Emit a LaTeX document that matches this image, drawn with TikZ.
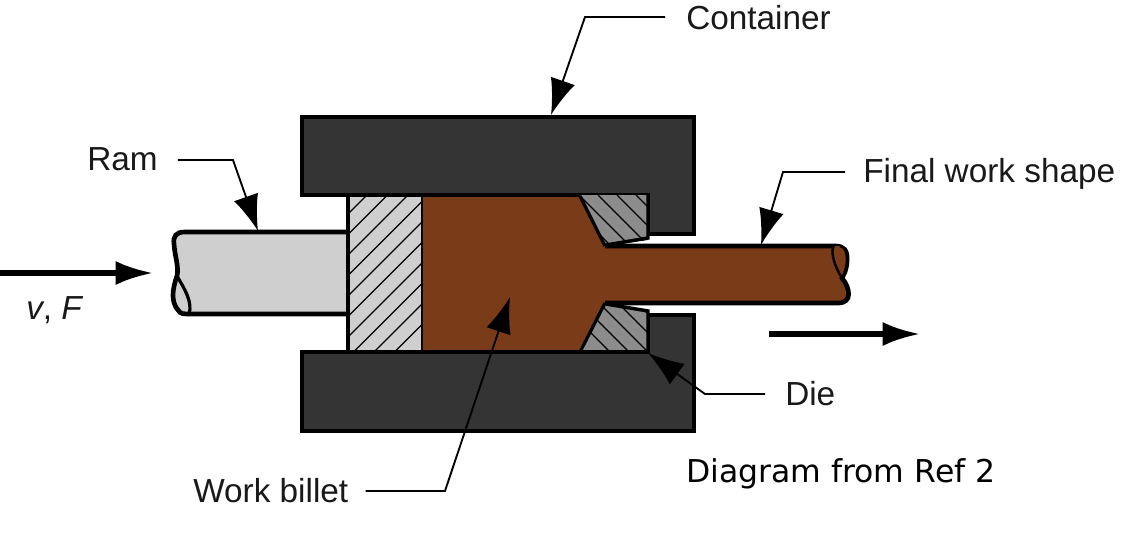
\documentclass[tikz,border=0pt]{standalone}
\usepackage{fontspec}
\setmainfont{Liberation Sans}
\newfontfamily\notefont{DejaVu Sans}
\usetikzlibrary{arrows.meta}
\definecolor{darkc}{RGB}{52,52,52}
\definecolor{ramc}{RGB}{207,207,207}
\definecolor{diec}{RGB}{140,140,140}
\definecolor{billc}{RGB}{122,60,24}
\tikzset{
  outl/.style={draw=black,line width=3.5pt,line join=miter},
  thinl/.style={draw=black,line width=1pt},
  leader/.style={draw=black,line width=1.4pt,-{Latex[length=27pt,width=19pt]}},
  bigarrow/.style={draw=black,line width=3.8pt,-{Latex[length=28pt,width=18pt]}},
  lab/.style={inner sep=0pt,font=\fontsize{25}{30}\selectfont,text=black!90},
}
\begin{document}
\begin{tikzpicture}[x=0.75pt,y=-0.75pt]
\useasboundingbox (0,0) rectangle (1140,540);
% container
\path[fill=darkc,outl] (302,117) -- (694,117) -- (694,234) -- (648,234) -- (648,195) -- (302,195) -- cycle;
\path[fill=darkc,outl] (302,352) -- (648,352) -- (648,315) -- (694,315) -- (694,431) -- (302,431) -- cycle;
% ram
\path[fill=ramc,outl] (348,232) -- (185,232) .. controls (176,232) and (173,236) .. (174,244)
  .. controls (175,258) and (179,266) .. (177,276) .. controls (172,290) and (171,302) .. (178,310) .. controls (180,314) and (184,314) .. (190,314) -- (348,314);
\path[draw=black,line width=2.4pt] (177,276) .. controls (184,288) and (193,302) .. (189,314);
% pressure block
\path[fill=ramc] (348,195) rectangle (423,352);
\begin{scope}
\clip (348,195) rectangle (423,352);
\foreach \k in {0,...,9} \draw[thinl] (348,{214+\k*20.5*1}) -- ++(80,-80);
\end{scope}
\path[outl] (348,195) rectangle (423,352);
% die
\path[fill=diec] (580,195) -- (648,195) -- (648,240) -- (605,246) -- cycle;
\path[fill=diec] (605,303) -- (648,311) -- (648,352) -- (580,352) -- cycle;
\begin{scope}
\clip (580,195) -- (648,195) -- (648,240) -- (605,246) -- cycle;
\foreach \k in {0,...,6} \draw[thinl] ({560+\k*19},195) -- ++(65,65);
\end{scope}
\begin{scope}
\clip (605,303) -- (648,311) -- (648,352) -- (580,352) -- cycle;
\foreach \k in {0,...,6} \draw[thinl] ({548+\k*19},290) -- ++(70,70);
\end{scope}
\path[draw=black,line width=2.6pt] (648,195) -- (648,238) -- (606,245);
\path[draw=black,line width=2.6pt] (606,304) -- (648,311) -- (648,352);
% billet
\path[fill=billc] (423,196) -- (580,196) -- (605,246) -- (835,246) .. controls (844,246) and (848,250) .. (847,262) .. controls (846,272) and (844,274) .. (842,278) .. controls (850,288) and (853,303) .. (838,303) -- (605,303) -- (580,352) -- (423,352) -- cycle;
\path[outl] (605,246) -- (835,246) .. controls (844,246) and (848,250) .. (847,262) .. controls (846,272) and (844,274) .. (842,278) .. controls (850,288) and (853,303) .. (838,303) -- (605,303);
\path[draw=black,line width=2.4pt] (580,196) -- (605,246);
\path[draw=black,line width=2.4pt] (580,352) -- (605,303);
\path[fill=billc,draw=black,line width=1.8pt] (834,246) .. controls (830,250) and (834,266) .. (842,278) .. controls (848,268) and (850,248) .. (840,246);
% inner edges redraw
\path[draw=black,line width=3.5pt] (423,195) -- (580,195);
\path[draw=black,line width=3.5pt] (423,352) -- (648,352);
% labels
\node[lab,anchor=west] (container) at (686,18) {Container};
\node[lab,anchor=west] (ram) at (87,159) {Ram};
\node[lab,anchor=west] (final) at (863,174) {Final work shape};
\node[lab,anchor=west] (die) at (785,394) {Die};
\node[lab,anchor=west] (billet) at (193,491) {Work billet};
\node[lab,anchor=west] (vf) at (26,310) {\textit{v}, \textit{F}};
\node[anchor=west,inner sep=0pt,font=\notefont\fontsize{23.6}{30}\selectfont] (note) at (686,474) {Diagram from Ref 2};
% connector ends
\coordinate (cT) at (551,115);
\coordinate (rT) at (258,231);
\coordinate (fT) at (761,245);
\coordinate (dT) at (648,353);
\coordinate (bT) at (510,297);
\coordinate (aL) at (0,273);
\coordinate (aR) at (153,273);
\coordinate (oL) at (769,334);
\coordinate (oR) at (920,334);
\draw[leader] (container.west) ++(-21,-1) -- (585,17) -- (cT);
\draw[leader] (ram.east) ++(20,1) -- (233,160) -- (rT);
\draw[leader] (final.west) ++(-18,-2) -- (783,172) -- (fT);
\draw[leader] (die.west) ++(-20,0) -- (705,394) -- (dT);
\draw[leader] (billet.east) ++(17,0) -- (445,491) -- (bT);
\draw[bigarrow] (aL) -- (aR);
\draw[bigarrow] (oL) -- (oR);
\end{tikzpicture}
\end{document}
